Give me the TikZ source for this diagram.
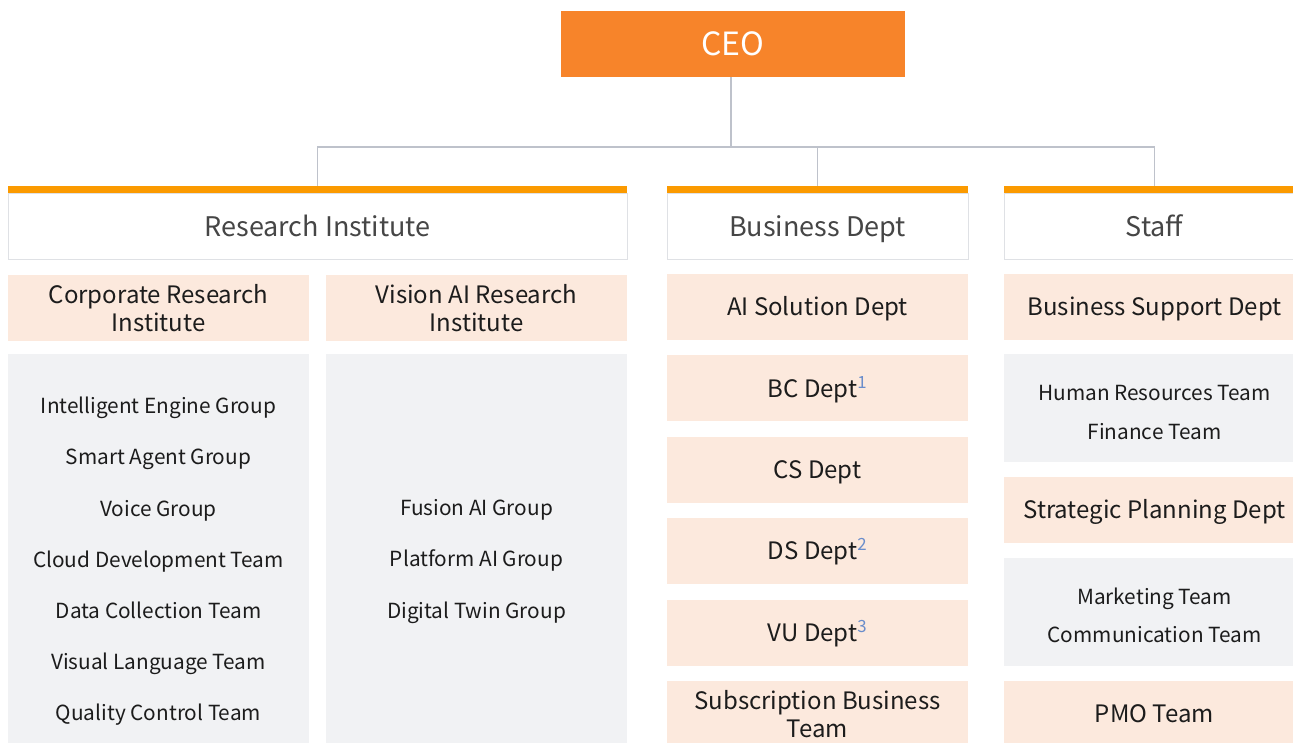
\documentclass[tikz,border=0pt]{standalone}
\usepackage{fontspec}
\setmainfont{Noto Sans CJK KR}

\definecolor{ceoorange}{HTML}{F7842A}
\definecolor{barorange}{HTML}{FB9A00}
\definecolor{peach}{HTML}{FCE9DD}
\definecolor{panelgray}{HTML}{F1F2F4}
\definecolor{wiregray}{HTML}{BEC2CB}
\definecolor{rimgray}{HTML}{DFE1E5}
\definecolor{headtext}{HTML}{464646}
\definecolor{bodytext}{HTML}{1C1C1C}
\definecolor{supblue}{HTML}{6A8DCB}

\newcommand{\fn}[1]{\textsuperscript{\color{supblue}#1}}

\tikzset{
  oneline/.style={text height=#1, text depth=0pt},
  ceo/.style={fill=ceoorange, text=white, minimum width=344pt, minimum height=66pt,
    inner sep=0pt, oneline=23.4pt, font=\fontsize{32}{38}\selectfont},
  head/.style={draw=rimgray, line width=1pt, fill=white, minimum height=66pt,
    inner sep=0pt, oneline=19.7pt, text=headtext, font=\fontsize{27}{32}\selectfont},
  bar/.style={fill=barorange, minimum height=7pt, inner sep=0pt, anchor=south},
  unit/.style={fill=peach, minimum width=301pt, minimum height=66pt, inner sep=0pt,
    align=center, text=bodytext, font=\fontsize{24}{28.5}\selectfont},
  team/.style={text=bodytext, inner sep=0pt, oneline=15.2pt, font=\fontsize{20.8}{25}\selectfont},
  panel/.style={fill=panelgray, minimum width=301pt, inner sep=0pt, anchor=north},
  wire/.style={draw=wiregray, line width=1.3pt},
}

\begin{document}
\begin{tikzpicture}[x=1pt, y=-1pt]

\useasboundingbox (0,0) rectangle (1293,743);
\clip (0,0) rectangle (1293,743);

\node[ceo] (ceo) at (733,44) {CEO};

% heads
\node[head, minimum width=619pt] (ri) at (317.5,227) {Research Institute};
\node[head, minimum width=301pt] (bd) at (817.5,227) {Business Dept};
\node[head, minimum width=301pt] (st) at (1154.5,227) {Staff};

\node[bar, minimum width=619pt] (ri-bar) at (ri.north) {};
\node[bar, minimum width=301pt] (bd-bar) at (bd.north) {};
\node[bar, minimum width=301pt] (st-bar) at (st.north) {};

\coordinate (hub) at ([xshift=-2pt]ceo.south |- 0,147);
\draw[wire] (ceo.south -| hub) -- (hub);
\draw[wire] (hub) -| (ri-bar.north);
\draw[wire] (hub) -| (bd-bar.north);
\draw[wire] (hub) -| (st-bar.north);

% research institute
\node[unit] (cri) at (158.5,308) {Corporate Research\\Institute};
\node[unit] (vai) at (476.5,308) {Vision AI Research\\Institute};

\node[panel, minimum height=400pt] (cri-panel) at (158.5,354) {};
\node[panel, minimum height=400pt] (vai-panel) at (476.5,354) {};

\foreach \t [count=\i] in {Intelligent Engine Group, Smart Agent Group, Voice Group,
    Cloud Development Team, Data Collection Team, Visual Language Team,
    Quality Control Team}
  \node[team] (cri-\i) at (158.5,{406+51.2*(\i-1)}) {\t};

\foreach \t [count=\i] in {Fusion AI Group, Platform AI Group, Digital Twin Group}
  \node[team] (vai-\i) at (476.5,{508+51.2*(\i-1)}) {\t};

% business dept
\foreach \t [count=\i] in {AI Solution Dept, BC Dept\fn{1}, CS Dept, DS Dept\fn{2},
    VU Dept\fn{3}}
  \node[unit, oneline=17.5pt] (bd-\i) at (817.5,{307+81.4*(\i-1)}) {\t};
\node[unit] (bd-6) at (817.5,714) {Subscription Business\\Team};

% staff
\node[unit, oneline=17.5pt] (bsd) at (1154.5,307) {Business Support Dept};
\node[panel, minimum height=108pt] (bsd-panel) at (1154.5,354) {};
\node[team] (hr) at (1154.5,393) {Human Resources Team};
\node[team] (fin) at (1154.5,432) {Finance Team};

\node[unit, oneline=17.5pt] (spd) at (1154.5,510) {Strategic Planning Dept};
\node[panel, minimum height=108pt] (spd-panel) at (1154.5,558) {};
\node[team] (mkt) at (1154.5,597) {Marketing Team};
\node[team] (com) at (1154.5,635) {Communication Team};

\node[unit, oneline=17.5pt] (pmo) at (1154.5,714) {PMO Team};

\end{tikzpicture}
\end{document}
